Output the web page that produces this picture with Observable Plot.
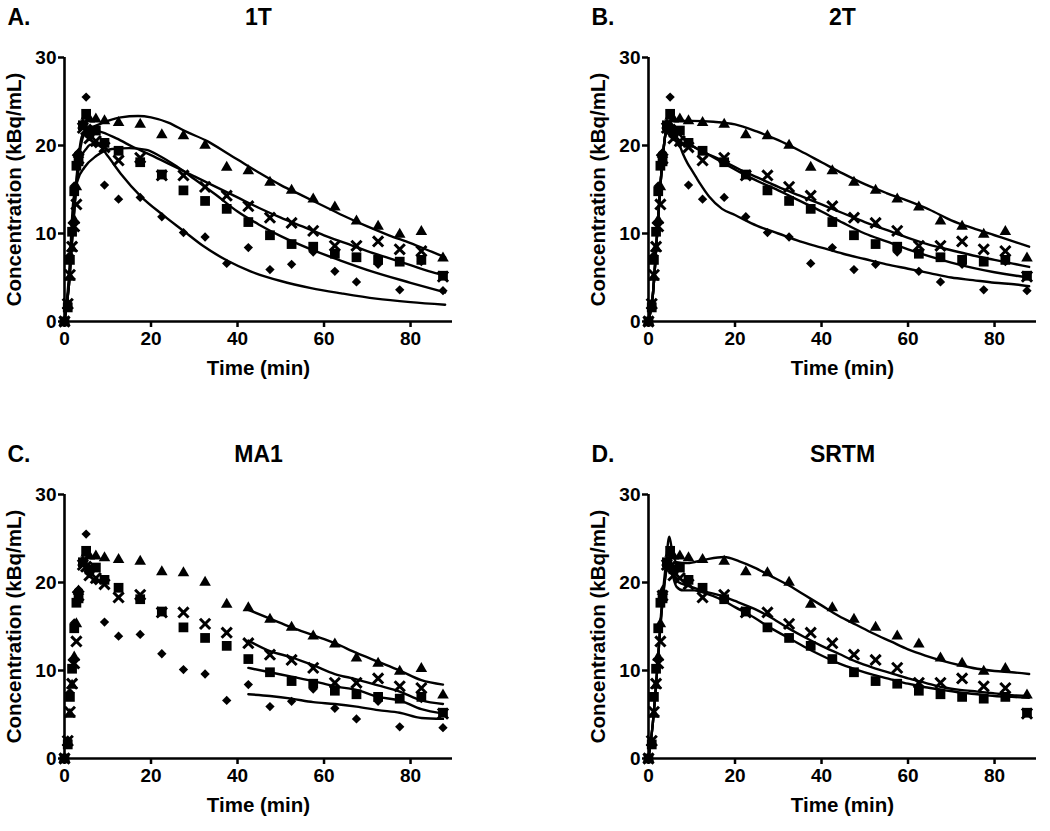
<!DOCTYPE html>
<html><head><meta charset="utf-8">
<script src="https://cdn.jsdelivr.net/npm/d3@7"></script>
<script src="https://cdn.jsdelivr.net/npm/@observablehq/plot@0.6"></script>
<style>
body{margin:0;background:#fff;width:1050px;height:831px;overflow:hidden;}
#wrap{position:relative;width:1050px;height:831px;background:#fff;}
#wrap svg{position:absolute;}
</style></head><body><div id="wrap"></div>
<script>
// ---- measured time frames (min) ----
const times = [0, 0.75, 1.25, 1.75, 2.25, 2.75, 3.25, 4.25, 5, 5.75, 7.25, 9.25, 12.5, 17.5, 22.5, 27.5, 32.5, 37.5, 42.5, 47.5, 52.5, 57.5, 62.5, 67.5, 72.5, 77.5, 82.5, 87.5];
// ---- observed concentrations (kBq/mL) ----
const triangleVals = [0, 1.8, 5.0, 8.3, 11.5, 15.3, 19.0, 22.3, 23.3, 23.0, 23.0, 22.8, 22.6, 22.4, 21.2, 21.1, 20.0, 17.5, 17.1, 15.8, 14.9, 13.9, 13.0, 11.4, 10.8, 9.9, 10.2, 7.2];
const crossVals    = [0, 2.0, 5.3, 8.5, 10.8, 13.3, 18.5, 22.0, 21.8, 20.8, 20.5, 19.8, 18.3, 18.6, 16.6, 16.6, 15.3, 14.3, 13.1, 11.8, 11.2, 10.3, 8.6, 8.6, 9.1, 8.2, 8.0, 5.1];
const squareVals   = [0, 1.6, 7.0, 10.2, 14.8, 17.7, 18.2, 22.3, 23.6, 21.5, 21.7, 20.3, 19.4, 18.1, 16.7, 14.9, 13.7, 12.8, 11.3, 9.8, 8.8, 8.5, 7.7, 7.3, 7.0, 6.8, 7.0, 5.2];
const diamondVals  = [0, 2.1, 7.5, 11.2, 15.4, 18.9, 19.2, 22.5, 25.5, 21.0, 20.2, 15.5, 13.9, 14.1, 11.9, 10.1, 9.6, 6.6, 8.4, 5.9, 6.5, 7.9, 5.7, 4.5, 6.5, 3.6, 6.8, 3.5];

// ---- fitted curves [time, value] ----
// A. 1T
const fit1T_triangle = [[0,0],[1,4],[2,11],[3,17.5],[4,21],[5,21.8],[7,22.2],[10,22.8],[13,23.2],[17,23.35],[20,23.2],[24,22.6],[28,21.6],[33,20.5],[38,19.0],[40,18.4],[45,16.9],[50,15.5],[55,14.3],[60,13.1],[65,11.9],[70,10.8],[75,9.8],[80,8.9],[85,7.9],[88,7.3]];
const fit1T_cross = [[0,0],[1,4],[2,11],[3,17],[4,20.5],[5,21.5],[6.5,21.7],[8,21.6],[12,20.8],[16,19.8],[20,18.9],[25,17.7],[30,16.5],[35,15.3],[40,14.1],[45,12.9],[50,11.8],[55,10.8],[60,9.8],[65,8.9],[70,8.0],[75,7.2],[80,6.4],[85,5.6],[88,5.2]];
const fit1T_square = [[0,0],[1,5],[2,13.5],[3,16],[4.6,17.5],[7.3,18.8],[11,19.6],[15,19.7],[19,19.5],[22,18.8],[26,17.6],[30,16.2],[35,14.4],[40,12.5],[45,11.0],[50,9.7],[57,8.2],[64,6.9],[71,5.7],[80,4.4],[88,3.3]];
const fit1T_diamond = [[0,0],[1,4],[2,11],[3,16.5],[4,18.8],[5,19.6],[6,20.1],[8,20.0],[10,18.8],[13,16.8],[17.7,14.2],[22.5,12.2],[27.5,10.3],[32,8.6],[37.7,6.9],[43,5.7],[50,4.6],[57,3.8],[64,3.2],[72,2.6],[80,2.2],[88,1.9]];
// B. 2T
const fit2T_triangle = [[0,0],[1,3],[2,10],[3,17],[4,21.5],[5,22.8],[6,22.8],[10,22.8],[15,22.7],[20,22.4],[25,21.6],[30,20.6],[35,19.4],[40,18.1],[45,16.8],[50,15.6],[55,14.6],[60,13.7],[65,12.7],[70,11.5],[75,10.6],[80,9.8],[85,9.0],[88,8.5]];
const fit2T_cross = [[0,0],[1,3],[2,10],[3,17],[4,21.5],[5,22.5],[6,22],[8,20.8],[10,20],[13,19.2],[17,18.3],[21,17.3],[25,16.4],[30,15.3],[35,14.3],[40,13.3],[45,12.3],[50,11.3],[55,10.4],[60,9.5],[65,8.7],[70,8.1],[75,7.5],[80,7.0],[85,6.5],[88,6.2]];
const fit2T_square = [[0,0],[1,3],[2,10],[3,17],[4,21.5],[5,22.5],[6,22],[8,20.8],[10,20],[13,19.2],[17,18.1],[21,17.0],[25,16.0],[30,14.9],[35,13.7],[40,12.5],[45,11.2],[50,10.0],[55,9.1],[60,8.2],[65,7.4],[70,6.7],[75,6.1],[80,5.6],[85,5.2],[88,5.0]];
const fit2T_diamond = [[0,0],[1,3],[2,10],[3,17],[4,21.5],[5,22.3],[6,21.5],[7,20.3],[8,19.0],[9,18.0],[10,17.2],[11,16.4],[12,15.6],[14,14.2],[17,12.8],[20,12.1],[25,10.9],[30,10.0],[35,9.1],[40,8.4],[45,7.7],[50,7.1],[55,6.5],[60,6.0],[65,5.5],[70,5.0],[75,4.7],[80,4.4],[85,4.2],[88,4.0]];
// C. MA1
const fitMA1_triangle = [[42.5,16.9],[47.5,15.9],[52.5,14.9],[57.5,14.0],[62.5,13.1],[67.5,12.0],[72.5,11.0],[77.5,10.0],[82.5,8.9],[87.5,8.4]];
const fitMA1_cross = [[42.5,13.4],[47.5,12.2],[52.5,11.5],[57.5,10.6],[62.5,9.6],[67.5,9.0],[72.5,8.3],[77.5,7.6],[82.5,6.6],[87.5,6.2]];
const fitMA1_square = [[42.5,10.3],[47.5,9.8],[52.5,9.3],[57.5,8.8],[62.5,8.2],[67.5,7.8],[72.5,7.0],[77.5,6.6],[82.5,5.6],[87.5,5.1]];
const fitMA1_diamond = [[42.5,7.3],[47.5,7.1],[52.5,6.8],[57.5,6.4],[62.5,6.2],[67.5,5.9],[72.5,5.5],[77.5,5.2],[82.5,4.6],[87.5,4.5]];
// D. SRTM
const fitSRTM_triangle = [[0,0],[1,4],[2,10],[3,17],[4,22],[4.8,25.2],[5.5,23.5],[6.5,22.3],[9,22.2],[13,22.6],[17.5,22.9],[21,22.4],[24.5,21.7],[28,20.8],[32,19.8],[36,18.6],[40,17.4],[44,16.2],[48,15.2],[52,14.2],[56,13.3],[60,12.4],[64,11.7],[68,11.1],[72,10.6],[76,10.2],[80,9.95],[84,9.8],[88,9.6]];
const fitSRTM_cross = [[0,0],[1,4],[2,10],[3,16.5],[4,21],[4.8,23],[5.5,21.5],[6.5,20.2],[8,19.8],[10.6,19.4],[13,19.0],[16.7,18.5],[20,17.9],[24.5,17.0],[28,16.1],[32,14.9],[36,13.8],[40,12.8],[44,11.9],[48,11.0],[52,10.3],[56,9.7],[60,9.1],[64,8.6],[68,8.1],[72,7.8],[76,7.6],[80,7.4],[84,7.2],[88,7.1]];
const fitSRTM_square = [[0,0],[1,4],[2,10],[3,16.5],[4,21],[4.8,22.5],[5.5,21],[6.5,19.5],[8,19.1],[10.6,19.1],[13,18.8],[16.7,18.1],[20,17.2],[24.5,16.0],[28,14.9],[32,13.8],[36,12.7],[40,11.7],[44,10.8],[48,10.1],[52,9.5],[56,9.0],[60,8.5],[64,8.1],[68,7.8],[72,7.5],[76,7.3],[80,7.1],[84,7.0],[88,6.9]];

// ---- axis ticks and labels ----
const yTicks = [0, 10, 20, 30];
const xTicks = [0, 20, 40, 60, 80];
const xLabel = "Time (min)";
const yLabel = "Concentration (kBq/mL)";

const panels = [
  {letter: "A.", title: "1T", left: 0, top: 0, fits: [fit1T_triangle, fit1T_cross, fit1T_square, fit1T_diamond], diamonds: true},
  {letter: "B.", title: "2T", left: 584, top: 0, fits: [fit2T_triangle, fit2T_cross, fit2T_square, fit2T_diamond], diamonds: true},
  {letter: "C.", title: "MA1", left: 0, top: 437, fits: [fitMA1_triangle, fitMA1_cross, fitMA1_square, fitMA1_diamond], diamonds: true},
  {letter: "D.", title: "SRTM", left: 584, top: 437, fits: [fitSRTM_triangle, fitSRTM_cross, fitSRTM_square], diamonds: false}
];

const rows = vals => times.map((t, i) => ({t, v: vals[i]}));
const font = "'Liberation Sans', Arial, Helvetica, sans-serif";

function makePanel(p) {
  const marks = [
    Plot.axisY({ticks: yTicks, tickSize: 6, tickPadding: 2, strokeWidth: 2.5, fontSize: 19, fontWeight: "bold", label: null, tickFormat: d => String(d)}),
    Plot.axisX({ticks: xTicks, tickSize: 6, tickPadding: 4, strokeWidth: 2.5, fontSize: 19, fontWeight: "bold", label: null, tickFormat: d => String(d)}),
    Plot.ruleX([0], {y1: 0, y2: 30, stroke: "black", strokeWidth: 2.6}),
    Plot.ruleY([0], {x1: 0, x2: 89.7, stroke: "black", strokeWidth: 2.6}),
    Plot.text([xLabel], {frameAnchor: "bottom", textAnchor: "middle", lineAnchor: "middle", dy: 47, fontSize: 20.5, fontWeight: "bold", fill: "black"}),
    Plot.text([yLabel], {frameAnchor: "left", textAnchor: "middle", lineAnchor: "middle", rotate: -90, dx: -50, fontSize: 20.5, fontWeight: "bold", fill: "black"}),
    Plot.text([p.title], {frameAnchor: "top", textAnchor: "middle", lineAnchor: "top", dy: -49, fontSize: 23, fontWeight: "bold", fill: "black"}),
    Plot.text([p.letter], {frameAnchor: "top-left", dx: -57, dy: -49, textAnchor: "start", lineAnchor: "top", fontSize: 23, fontWeight: "bold", fill: "black"})
  ];
  if (p.diamonds) marks.push(Plot.dot(rows(diamondVals), {x: "t", y: "v", symbol: "diamond2", r: 4.2, fill: "black"}));
  marks.push(Plot.dot(rows(squareVals), {x: "t", y: "v", symbol: "square", r: 5.5, fill: "black"}));
  marks.push(Plot.dot(rows(crossVals), {x: "t", y: "v", symbol: "times", r: 4.7, stroke: "black", strokeWidth: 3, fill: "none"}));
  marks.push(Plot.dot(rows(triangleVals), {x: "t", y: "v", symbol: "triangle", r: 4.3, fill: "black"}));
  for (const f of p.fits) {
    marks.push(Plot.line(f, {x: d => d[0], y: d => d[1], stroke: "black", strokeWidth: 2.4, curve: "monotone-x"}));
  }
  const svg = Plot.plot({
    width: 462, height: 391,
    marginLeft: 64, marginRight: 10, marginTop: 57, marginBottom: 70,
    x: {domain: [0, 89.7]},
    y: {domain: [0, 30]},
    style: {fontFamily: font, fontWeight: "bold", color: "black", background: "transparent", overflow: "visible"},
    marks
  });
  svg.style.left = p.left + "px";
  svg.style.top = p.top + "px";
  return svg;
}

const wrap = document.getElementById("wrap");
for (const p of panels) wrap.appendChild(makePanel(p));
</script>
</body></html>
